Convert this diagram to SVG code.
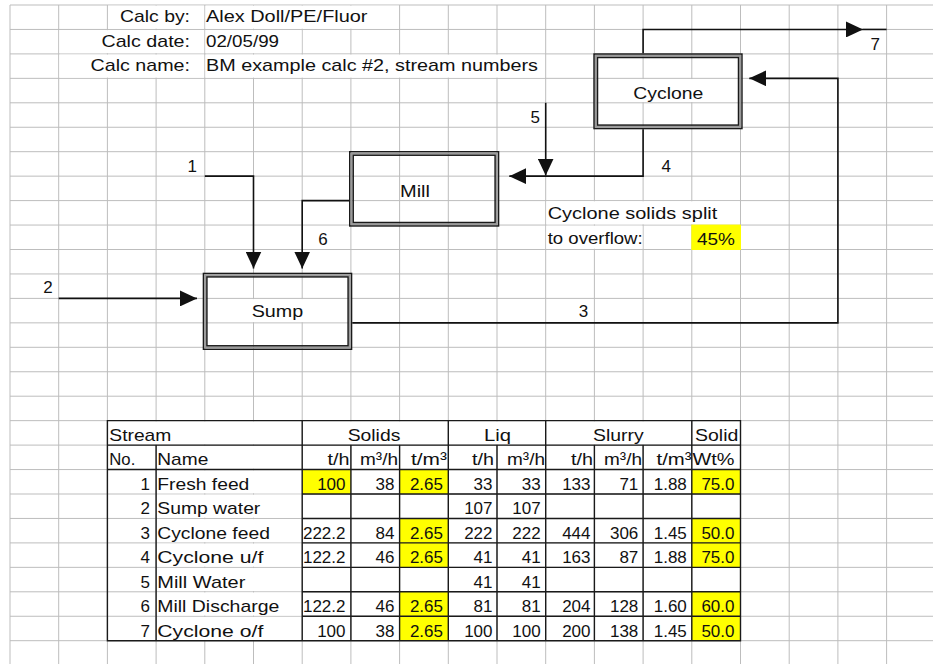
<svg xmlns="http://www.w3.org/2000/svg" width="933" height="664" viewBox="0 0 933 664">
<style>
.grid{stroke:#bdbdbd;stroke-width:1;fill:none}
.cov{fill:#ffffff}
.yel{fill:#ffff00}
.t{font-family:"Liberation Sans",Arial,sans-serif;font-size:17px;fill:#111}
.e{text-anchor:end}
.m{text-anchor:middle}
.bo{fill:none;stroke:#1a1a1a;stroke-width:1.5}
.bg{fill:none;stroke:#9a9a9a;stroke-width:1.8}
.tb{fill:none;stroke:#1a1a1a;stroke-width:1.4}
.cn{fill:none;stroke:#111;stroke-width:1.6;stroke-linejoin:miter}
</style>
<defs>
<marker id="ah" markerUnits="userSpaceOnUse" markerWidth="17" markerHeight="16" refX="17" refY="8" orient="auto" viewBox="0 0 17 16"><path d="M0,0 L17,8 L0,16 z" fill="#111"/></marker>
</defs>
<rect width="933" height="664" fill="#ffffff"/>
<g id="grid" class="grid">
<path d="M10 5V664M58.7 5V664M107.4 5V664M156.1 5V664M204.8 5V664M253.5 5V664M302.2 5V664M350.9 5V664M399.6 5V664M448.3 5V664M497 5V664M545.7 5V664M594.4 5V664M643.1 5V664M691.8 5V664M740.5 5V664M789.2 5V664M837.9 5V664M886.6 5V664"/>
<path d="M10 5H933M10 29.45H933M10 53.9H933M10 78.35H933M10 102.8H933M10 127.25H933M10 151.7H933M10 176.15H933M10 200.6H933M10 225.05H933M10 249.5H933M10 273.95H933M10 298.4H933M10 322.85H933M10 347.3H933M10 371.75H933M10 396.2H933M10 420.65H933M10 445.1H933M10 469.55H933M10 494H933M10 518.45H933M10 542.9H933M10 567.35H933M10 591.8H933M10 616.25H933M10 640.7H933"/>
</g>
<g id="covers" class="cov">
<rect x="108.1" y="5.7" width="96" height="23"/>
<rect x="205.5" y="5.7" width="193.4" height="23"/>
<rect x="59.4" y="30.15" width="144.7" height="23"/>
<rect x="205.5" y="30.15" width="96" height="23"/>
<rect x="59.4" y="54.6" width="144.7" height="23"/>
<rect x="205.5" y="54.6" width="339.5" height="23"/>
<rect x="595.1" y="79.05" width="144.7" height="23"/>
<rect x="546.4" y="201.3" width="193.4" height="23"/>
<rect x="546.4" y="225.75" width="96" height="23"/>
<rect x="205.5" y="299.1" width="144.7" height="23"/>
<rect x="108.1" y="421.35" width="193.4" height="23"/>
<rect x="302.9" y="421.35" width="144.7" height="23"/>
<rect x="449" y="421.35" width="96" height="23"/>
<rect x="546.4" y="421.35" width="144.7" height="23"/>
<rect x="156.8" y="445.8" width="144.7" height="23"/>
<rect x="156.8" y="470.25" width="144.7" height="23"/>
<rect x="156.8" y="494.7" width="144.7" height="23"/>
<rect x="156.8" y="519.15" width="144.7" height="23"/>
<rect x="156.8" y="543.6" width="144.7" height="23"/>
<rect x="156.8" y="568.05" width="144.7" height="23"/>
<rect x="156.8" y="592.5" width="144.7" height="23"/>
<rect x="156.8" y="616.95" width="144.7" height="23"/>
</g>
<g id="header">
<text class="t e" x="190" y="22" textLength="70" lengthAdjust="spacingAndGlyphs">Calc by:</text>
<text class="t e" x="190" y="46.5" textLength="88.5" lengthAdjust="spacingAndGlyphs">Calc date:</text>
<text class="t e" x="190" y="71" textLength="99.5" lengthAdjust="spacingAndGlyphs">Calc name:</text>
<text class="t" x="206" y="22" textLength="161.5" lengthAdjust="spacingAndGlyphs">Alex Doll/PE/Fluor</text>
<text class="t" x="206" y="46.5" textLength="73" lengthAdjust="spacingAndGlyphs">02/05/99</text>
<text class="t" x="206" y="71" textLength="332" lengthAdjust="spacingAndGlyphs">BM example calc #2, stream numbers</text>
</g>
<g id="node-cyclone">
<rect class="bo" x="594.05" y="54.05" width="147.9" height="74.5"/>
<rect class="bg" x="595.8" y="55.8" width="144.4" height="71"/>
<rect class="bo" x="597.5" y="57.5" width="141" height="67.6"/>
<text class="t m" x="668.3" y="98.5" textLength="70" lengthAdjust="spacingAndGlyphs">Cyclone</text>
</g>
<g id="node-mill">
<rect class="bo" x="349.75" y="151.75" width="148.8" height="74.2"/>
<rect class="bg" x="351.5" y="153.5" width="145.3" height="70.7"/>
<rect class="bo" x="353.2" y="155.2" width="141.9" height="67.3"/>
<text class="t" x="400" y="196.5" textLength="30" lengthAdjust="spacingAndGlyphs">Mill</text>
</g>
<g id="node-sump">
<rect class="bo" x="203.45" y="273.45" width="148.1" height="75.8"/>
<rect class="bg" x="205.2" y="275.2" width="144.6" height="72.3"/>
<rect class="bo" x="206.9" y="276.9" width="141.2" height="68.9"/>
<text class="t m" x="277.5" y="316.5" textLength="51.6" lengthAdjust="spacingAndGlyphs">Sump</text>
</g>
<g id="connectors" class="cn">
<polyline id="s1" points="204.8,176.15 253.5,176.15 253.5,268.5" marker-end="url(#ah)"/>
<polyline id="s2" points="58.7,298.4 197,298.4" marker-end="url(#ah)"/>
<polyline id="s3" points="352.3,322.85 837.9,322.85 837.9,78.35 749.3,78.35" marker-end="url(#ah)"/>
<polyline id="s4" points="643.1,129.3 643.1,176.15 509.3,176.15" marker-end="url(#ah)"/>
<polyline id="s5" points="545.7,102.8 545.7,175.5" marker-end="url(#ah)"/>
<polyline id="s6" points="349,200.6 302.2,200.6 302.2,268.5" marker-end="url(#ah)"/>
<polyline id="s7" points="643.1,53.3 643.1,29.45 863,29.45" marker-end="url(#ah)"/>
<line x1="863" y1="29.45" x2="886.6" y2="29.45"/>
</g>
<g id="stream-labels">
<text class="t e" x="197" y="171.5">1</text>
<text class="t e" x="52.7" y="293">2</text>
<text class="t e" x="588.3" y="316.5">3</text>
<text class="t e" x="671" y="171.5">4</text>
<text class="t e" x="540" y="123">5</text>
<text class="t" x="318.3" y="245">6</text>
<text class="t e" x="880" y="50">7</text>
</g>
<g id="split-note">
<rect class="yel" x="691.3" y="224.6" width="49.7" height="25.4"/>
<text class="t" x="547.7" y="219.3" textLength="169.6" lengthAdjust="spacingAndGlyphs">Cyclone solids split</text>
<text class="t" x="547.7" y="243.5" textLength="95" lengthAdjust="spacingAndGlyphs">to overflow:</text>
<text class="t e" x="735" y="245" textLength="38" lengthAdjust="spacingAndGlyphs">45%</text>
</g>
<g id="table">
<g class="yel">
<rect x="302.2" y="469.55" width="48.7" height="24.45"/>
<rect x="399.6" y="469.55" width="48.7" height="24.45"/>
<rect x="691.8" y="469.55" width="48.7" height="24.45"/>
<rect x="399.6" y="518.45" width="48.7" height="24.45"/>
<rect x="691.8" y="518.45" width="48.7" height="24.45"/>
<rect x="399.6" y="542.9" width="48.7" height="24.45"/>
<rect x="691.8" y="542.9" width="48.7" height="24.45"/>
<rect x="399.6" y="591.8" width="48.7" height="24.45"/>
<rect x="691.8" y="591.8" width="48.7" height="24.45"/>
<rect x="399.6" y="616.25" width="48.7" height="24.45"/>
<rect x="691.8" y="616.25" width="48.7" height="24.45"/>
</g>
<path class="tb" d="M107.4 420.65H740.5V640.7H107.4Z M107.4 445.1H740.5 M107.4 469.55H740.5 M302.2 494H740.5 M302.2 518.45H740.5 M302.2 542.9H740.5 M302.2 567.35H740.5 M302.2 591.8H740.5 M302.2 616.25H740.5 M156.1 445.1V640.7 M302.2 420.65V640.7 M448.3 420.65V640.7 M545.7 420.65V640.7 M691.8 420.65V640.7 M350.9 445.1V640.7 M399.6 445.1V640.7 M497 445.1V640.7 M594.4 445.1V640.7 M643.1 445.1V640.7"/>
<text class="t" x="109.3" y="441" textLength="62" lengthAdjust="spacingAndGlyphs">Stream</text>
<text class="t m" x="374" y="441" textLength="52.7" lengthAdjust="spacingAndGlyphs">Solids</text>
<text class="t m" x="497.5" y="441" textLength="27" lengthAdjust="spacingAndGlyphs">Liq</text>
<text class="t m" x="618.3" y="441" textLength="50.6" lengthAdjust="spacingAndGlyphs">Slurry</text>
<text class="t" x="695" y="441" textLength="43.3" lengthAdjust="spacingAndGlyphs">Solid</text>
<text class="t" x="109.3" y="465.4" textLength="26" lengthAdjust="spacingAndGlyphs">No.</text>
<text class="t" x="157.3" y="465.4" textLength="51" lengthAdjust="spacingAndGlyphs">Name</text>
<text class="t e" x="349.5" y="465.4" textLength="22" lengthAdjust="spacingAndGlyphs">t/h</text>
<text class="t e" x="398" y="465.4" textLength="38" lengthAdjust="spacingAndGlyphs">m³/h</text>
<text class="t e" x="447" y="465.4" textLength="36" lengthAdjust="spacingAndGlyphs">t/m³</text>
<text class="t e" x="494" y="465.4" textLength="22" lengthAdjust="spacingAndGlyphs">t/h</text>
<text class="t e" x="545" y="465.4" textLength="38" lengthAdjust="spacingAndGlyphs">m³/h</text>
<text class="t e" x="593" y="465.4" textLength="22" lengthAdjust="spacingAndGlyphs">t/h</text>
<text class="t e" x="642" y="465.4" textLength="38" lengthAdjust="spacingAndGlyphs">m³/h</text>
<text class="t e" x="691.5" y="465.4" textLength="35" lengthAdjust="spacingAndGlyphs">t/m³</text>
<text class="t" x="692.5" y="465.4" textLength="42" lengthAdjust="spacingAndGlyphs">Wt%</text>
<g class="t e">
<text x="150" y="489.9">1</text>
<text x="150" y="514.3">2</text>
<text x="150" y="538.8">3</text>
<text x="150" y="563.2">4</text>
<text x="150" y="587.7">5</text>
<text x="150" y="612.1">6</text>
<text x="150" y="636.6">7</text>
</g>
<text class="t" x="157.3" y="489.9" textLength="92" lengthAdjust="spacingAndGlyphs">Fresh feed</text>
<text class="t" x="157.3" y="514.3" textLength="103" lengthAdjust="spacingAndGlyphs">Sump water</text>
<text class="t" x="157.3" y="538.8" textLength="112.6" lengthAdjust="spacingAndGlyphs">Cyclone feed</text>
<text class="t" x="157.3" y="563.2" textLength="106" lengthAdjust="spacingAndGlyphs">Cyclone u/f</text>
<text class="t" x="157.3" y="587.7" textLength="88" lengthAdjust="spacingAndGlyphs">Mill Water</text>
<text class="t" x="157.3" y="612.1" textLength="122" lengthAdjust="spacingAndGlyphs">Mill Discharge</text>
<text class="t" x="157.3" y="636.6" textLength="106" lengthAdjust="spacingAndGlyphs">Cyclone o/f</text>
<g class="t e">
<text x="345.5" y="489.9">100</text><text x="394.5" y="489.9">38</text><text x="443" y="489.9">2.65</text><text x="492.5" y="489.9">33</text><text x="540.7" y="489.9">33</text><text x="590.5" y="489.9">133</text><text x="638.3" y="489.9">71</text><text x="686.8" y="489.9">1.88</text><text x="734.5" y="489.9">75.0</text>
<text x="492.5" y="514.3">107</text><text x="540.7" y="514.3">107</text>
<text x="345.5" y="538.8">222.2</text><text x="394.5" y="538.8">84</text><text x="443" y="538.8">2.65</text><text x="492.5" y="538.8">222</text><text x="540.7" y="538.8">222</text><text x="590.5" y="538.8">444</text><text x="638.3" y="538.8">306</text><text x="686.8" y="538.8">1.45</text><text x="734.5" y="538.8">50.0</text>
<text x="345.5" y="563.2">122.2</text><text x="394.5" y="563.2">46</text><text x="443" y="563.2">2.65</text><text x="492.5" y="563.2">41</text><text x="540.7" y="563.2">41</text><text x="590.5" y="563.2">163</text><text x="638.3" y="563.2">87</text><text x="686.8" y="563.2">1.88</text><text x="734.5" y="563.2">75.0</text>
<text x="492.5" y="587.7">41</text><text x="540.7" y="587.7">41</text>
<text x="345.5" y="612.1">122.2</text><text x="394.5" y="612.1">46</text><text x="443" y="612.1">2.65</text><text x="492.5" y="612.1">81</text><text x="540.7" y="612.1">81</text><text x="590.5" y="612.1">204</text><text x="638.3" y="612.1">128</text><text x="686.8" y="612.1">1.60</text><text x="734.5" y="612.1">60.0</text>
<text x="345.5" y="636.6">100</text><text x="394.5" y="636.6">38</text><text x="443" y="636.6">2.65</text><text x="492.5" y="636.6">100</text><text x="540.7" y="636.6">100</text><text x="590.5" y="636.6">200</text><text x="638.3" y="636.6">138</text><text x="686.8" y="636.6">1.45</text><text x="734.5" y="636.6">50.0</text>
</g>
</g>
</svg>
